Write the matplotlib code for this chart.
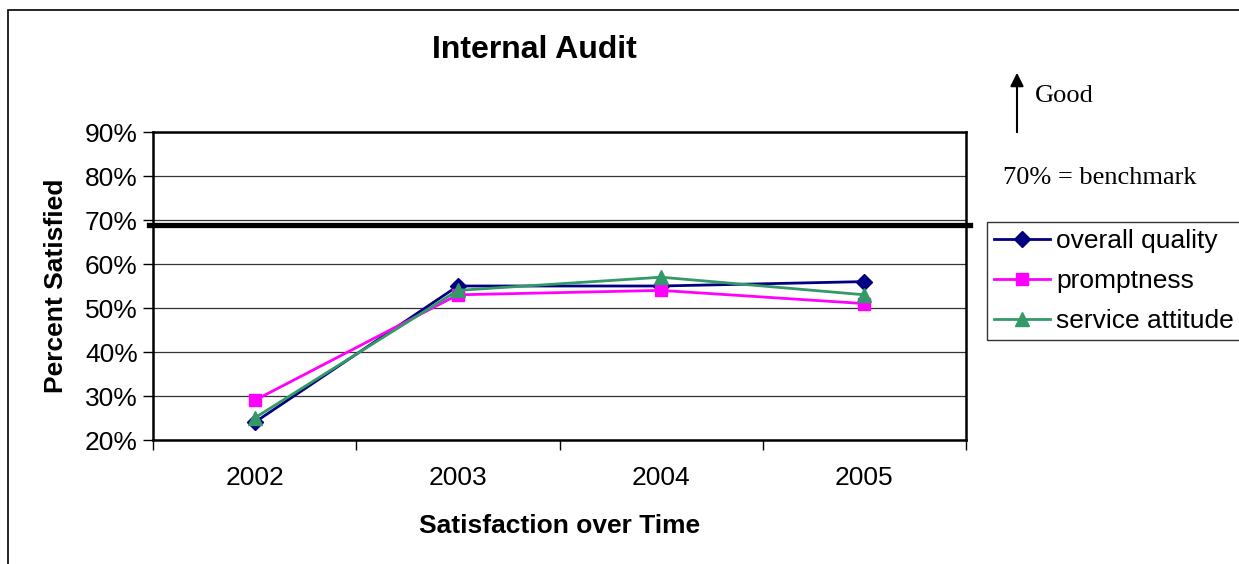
import numpy as np
import matplotlib.pyplot as plt
from matplotlib.patches import Rectangle, FancyArrowPatch

plt.rcParams['font.family'] = ['Liberation Sans', 'DejaVu Sans']

years = ['2002', '2003', '2004', '2005']
overall_quality = [24, 55, 55, 56]
promptness = [29, 53, 54, 51]
service_attitude = [25, 54, 57, 53]
benchmark = 68.9

fig = plt.figure(figsize=(12.39, 5.64), dpi=100)
ax = fig.add_axes([153 / 1239, 1 - 440 / 564, (966 - 153) / 1239, (440 - 132) / 564])

x = np.arange(len(years))
ax.plot(x, overall_quality, color='#000080', lw=2, marker='D', ms=8, label='overall quality')
ax.plot(x, promptness, color='#FF00FF', lw=2, marker='s', ms=9, label='promptness')
ax.plot(x, service_attitude, color='#339966', lw=2, marker='^', ms=10, label='service attitude')

# benchmark line runs slightly past the plot area
ax.plot([-0.52, 3.52], [benchmark, benchmark], color='black', lw=3.8, clip_on=False, zorder=1)

ax.set_xlim(-0.5, 3.5)
ax.set_ylim(20, 90)
yt = np.arange(20, 91, 10)
ax.set_yticks(yt)
ax.set_yticklabels([f'{v}%' for v in yt], fontsize=19)
ax.set_xticks(x)
ax.set_xticklabels(years, fontsize=19)
ax.set_xticks(np.arange(-0.5, 3.6, 1), minor=True)
ax.tick_params(axis='x', which='major', length=0, pad=19)
ax.tick_params(axis='x', which='minor', length=7, width=1, direction='out')
ax.tick_params(axis='y', length=7, width=1, direction='out', pad=4)
ax.grid(axis='y', color='#333333', lw=0.9)
ax.set_axisbelow(True)
for s in ax.spines.values():
    s.set_linewidth(1.8)
    s.set_color('black')

ax.set_ylabel('Percent Satisfied', fontsize=19, fontweight='bold', labelpad=12)
ax.set_xlabel('Satisfaction over Time', fontsize=19, fontweight='bold', labelpad=17)
fig.text(534 / 1239, 1 - 50 / 564, 'Internal Audit', fontsize=23, fontweight='bold',
         ha='center', va='center')

leg = ax.legend(loc='upper left', bbox_to_anchor=(987 / 1239, 1 - 222 / 564),
                bbox_transform=fig.transFigure, fontsize=19, frameon=True,
                fancybox=False, edgecolor='black', handlelength=2.1,
                handletextpad=0.25, labelspacing=0.6, borderpad=0.28, borderaxespad=0)
leg.get_frame().set_linewidth(1.0)

# arrow and notes at right
fig.add_artist(FancyArrowPatch(
    (1017 / 1239, 1 - 135 / 564), (1017 / 1239, 1 - 70 / 564),
    transform=fig.transFigure, arrowstyle='-|>', mutation_scale=20, color='black', lw=1.5))
fig.text(1035 / 1239, 1 - 96 / 564, 'Good', fontsize=19, family='Liberation Serif',
         ha='left', va='center')
fig.text(1003 / 1239, 1 - 178 / 564, '70% = benchmark', fontsize=19,
         family='Liberation Serif', ha='left', va='center')

# outer frame
fig.add_artist(Rectangle((8 / 1239, -0.1), 1.2, 1 - 10 / 564 + 0.1,
                         transform=fig.transFigure, fill=False, ec='black', lw=1.2))

fig.savefig('out.png', dpi=100)
